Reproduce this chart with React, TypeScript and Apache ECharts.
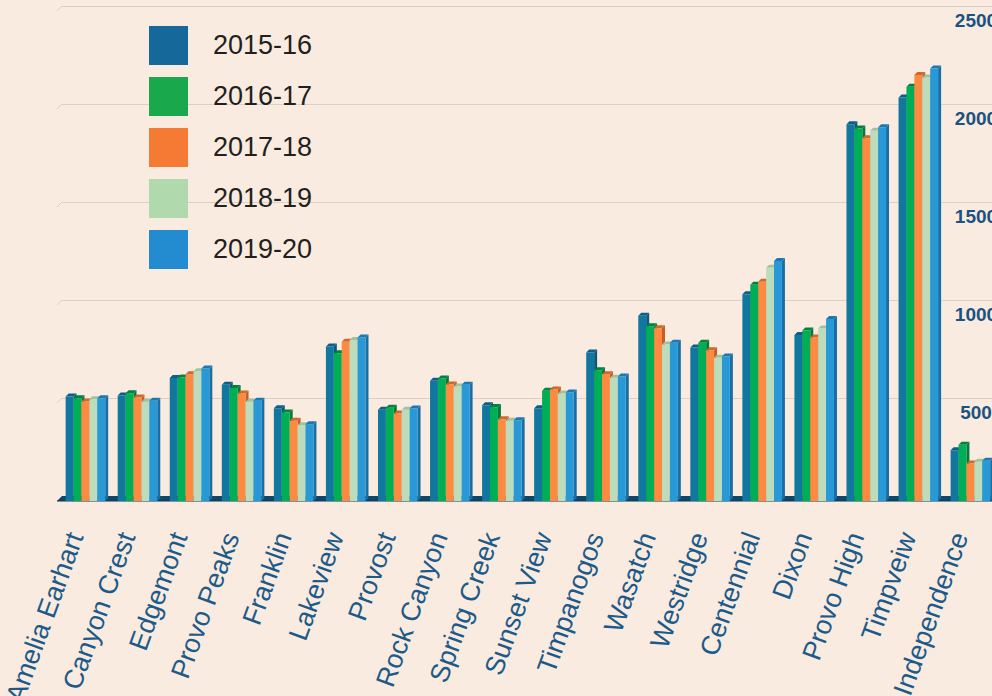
import React, { useEffect, useRef } from "react";
import * as echarts from "echarts";

const categories = [
  "Amelia Earhart", "Canyon Crest", "Edgemont", "Provo Peaks", "Franklin", "Lakeview",
  "Provost", "Rock Canyon", "Spring Creek", "Sunset View", "Timpanogos", "Wasatch",
  "Westridge", "Centennial", "Dixon", "Provo High", "Timpveiw", "Independence",
];
const seriesNames = ["2015-16", "2016-17", "2017-18", "2018-19", "2019-20"];
const y2015 = [533, 538, 627, 593, 473, 788, 465, 613, 489, 473, 758, 945, 783, 1055, 847, 1922, 2059, 259];
const y2016 = [524, 550, 630, 577, 452, 754, 476, 625, 479, 562, 667, 892, 807, 1103, 870, 1900, 2113, 287];
const y2017 = [508, 528, 647, 548, 409, 812, 446, 594, 417, 569, 647, 882, 769, 1118, 834, 1851, 2173, 191];
const y2018 = [519, 506, 662, 506, 387, 822, 465, 584, 409, 548, 629, 798, 731, 1190, 880, 1889, 2161, 200];
const y2019 = [524, 511, 676, 511, 392, 834, 472, 593, 412, 554, 635, 807, 737, 1225, 928, 1907, 2207, 205];
const seriesValues = [y2015, y2016, y2017, y2018, y2019];

const legendColors = ["#15699a", "#19a84b", "#f57a33", "#b0daae", "#238bcf"];
const frontColors = ["#12779f", "#00ae55", "#fd8a41", "#bcdcbb", "#2898d6"];
const topColors = ["#0c5f86", "#04813f", "#d0672c", "#9fc49d", "#1c78b3"];
const sideColors = ["#0b587c", "#067a3b", "#c45f27", "#93b891", "#186ea5"];

const FONT = "'Liberation Sans Narrow', 'Arial Narrow', 'Liberation Sans', Arial, sans-serif";
const WALL = 5; // depth of back wall
const D = 3; // depth of a bar

export default function App() {
  const ref = useRef<HTMLDivElement>(null);
  useEffect(() => {
    if (!ref.current) return;
    const chart = echarts.init(ref.current, null, { renderer: "svg" });

    const barSeries = seriesNames.map((name, s) => ({
      name,
      type: "custom",
      z: 3,
      itemStyle: { color: legendColors[s] },
      data: seriesValues[s].map((v, i) => [i, v]),
      renderItem: (params: any, api: any) => {
        const cat = api.value(0);
        const val = api.value(1);
        const p = api.coord([cat, val]);
        const b = api.coord([cat, 0]);
        const catW = api.size([1, 0])[0];
        const bw = catW * 0.152;
        const cx = p[0] - 2.6;
        const x0 = cx - 2.5 * bw + s * bw;
        const yf = p[1] + WALL;
        const yb = b[1] + WALL;
        return {
          type: "group",
          children: [
            {
              type: "polygon",
              shape: { points: [[x0 + bw, yf], [x0 + bw + D, yf - D], [x0 + bw + D, yb - D], [x0 + bw, yb]] },
              style: { fill: sideColors[s] },
            },
            {
              type: "polygon",
              shape: { points: [[x0, yf], [x0 + D, yf - D], [x0 + bw + D, yf - D], [x0 + bw, yf]] },
              style: { fill: topColors[s] },
            },
            {
              type: "rect",
              shape: { x: x0, y: yf, width: bw, height: yb - yf },
              style: { fill: frontColors[s] },
            },
          ],
        };
      },
    }));

    const floorSeries = {
      name: "floor",
      type: "custom",
      z: 1,
      silent: true,
      data: [[0, 0]],
      renderItem: (params: any, api: any) => {
        const cs = params.coordSys;
        const yb = cs.y + cs.height;
        const right = cs.x + cs.width + 20;
        const children: any[] = [
          {
            type: "polygon",
            shape: { points: [[cs.x - WALL, yb + WALL], [cs.x, yb], [right, yb], [right, yb + WALL]] },
            style: { fill: "#0f4769" },
          },
          {
            type: "line",
            shape: { x1: cs.x - WALL, y1: yb + WALL, x2: right, y2: yb + WALL },
            style: { stroke: "#0a3854", lineWidth: 1.2 },
          },
        ];
        [500, 1000, 1500, 2000, 2500].forEach((v) => {
          const y = api.coord([0, v])[1];
          children.push({
            type: "line",
            shape: { x1: cs.x, y1: y, x2: cs.x - WALL, y2: y + WALL },
            style: { stroke: "#dccfc8", lineWidth: 1 },
          });
        });
        return { type: "group", children };
      },
    };

    chart.setOption({
      animation: false,
      backgroundColor: "#f9ebdf",
      grid: { left: 62, right: -7, top: 6, bottom: 200, containLabel: false, outerBoundsMode: "none" },
      legend: {
        data: seriesNames,
        orient: "vertical",
        left: 149,
        top: 26,
        icon: "rect",
        itemWidth: 39,
        itemHeight: 39,
        itemGap: 12,
        padding: 0,
        formatter: "{a|{name}}",
        textStyle: {
          fontSize: 27,
          fontFamily: FONT,
          color: "#231f20",
          rich: {
            a: { fontSize: 27, fontFamily: FONT, color: "#231f20", padding: [0, 0, 1, 20] },
          },
        },
      },
      xAxis: {
        type: "category",
        data: categories,
        offset: 19,
        axisLine: { show: true, lineStyle: { color: "#e5d8ce", width: 1 } },
        axisTick: { show: false },
        splitLine: { show: false },
        axisLabel: {
          interval: 0,
          rotate: 70,
          margin: 23,
          fontSize: 27,
          fontFamily: FONT,
          color: "#1c5a8a",
          verticalAlign: "bottom",
        },
      },
      yAxis: {
        type: "value",
        position: "right",
        min: 0,
        max: 2500,
        interval: 500,
        axisLine: { show: false },
        axisTick: { show: false },
        splitLine: { lineStyle: { color: "#dccfc8", width: 1 } },
        axisLabel: {
          formatter: (v: number) => (v === 0 ? "" : String(v)),
          align: "center",
          verticalAlign: "top",
          margin: -23,
          padding: [5, 0, 0, 0],
          fontSize: 19,
          fontWeight: "bold",
          fontFamily: FONT,
          color: "#1b5282",
        },
      },
      series: [floorSeries, ...barSeries],
    });
    return () => chart.dispose();
  }, []);
  return (
    <div style={{ position: "fixed", left: 0, top: 0, width: 992, height: 696, overflow: "hidden" }}>
      <div ref={ref} style={{ width: 992, height: 696 }} />
    </div>
  );
}
